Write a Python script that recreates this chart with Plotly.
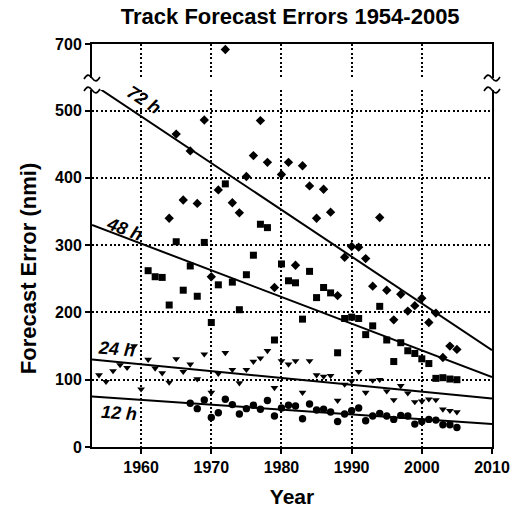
import plotly.graph_objects as go

# ---------------- data ----------------
years_72 = list(range(1964, 2006))
err_72 = [340, 465, 367, 440, 362, 486, 253, 382, 692, 363, 348, 402, 433, 485, 423, 237,
          405, 423, 270, 418, 388, 340, 383, 349, 225, 282, 298, 297, 280, 239, 341, 233,
          189, 227, 202, 210, 221, 185, 199, 133, 150, 145]

years_48 = list(range(1961, 2006))
err_48 = [262, 253, 252, 211, 305, 233, 269, 224, 304, 185, 241, 391, 245, 204, 256, 285,
          331, 326, 159, 272, 247, 244, 190, 261, 222, 237, 229, 140, 191, 193, 191, 167,
          180, 209, 159, 127, 155, 143, 139, 131, 124, 102, 103, 101, 100]

years_24 = list(range(1954, 2006))
err_24 = [107, 97, 113, 122, 118, 150, 86, 130, 117, 110, 96, 131, 112, 123, 101, 138,
          81, 109, 140, 115, 95, 115, 127, 132, 143, 88, 128, 123, 128, 81, 128, 107,
          105, 106, 69, 93, 98, 112, 81, 99, 100, 83, 70, 91, 80, 67, 68, 71, 70, 56, 54, 52]

years_12 = list(range(1967, 2006))
err_12 = [65, 57, 70, 44, 51, 71, 63, 49, 57, 62, 56, 69, 46, 58, 62, 61, 42, 64, 55, 56,
          52, 38, 49, 54, 58, 39, 46, 50, 46, 41, 47, 46, 34, 38, 41, 40, 33, 33, 29]

trend_years = [1953, 2010]
trend_72 = [540, 144]
trend_48 = [330, 104]
trend_24 = [130, 72]
trend_12 = [75, 34]

x_ticks = [1960, 1970, 1980, 1990, 2000, 2010]
y_ticks_low = [0, 100, 200, 300, 400, 500]
y_ticks_high = [700]

FONT = "Liberation Sans, Arial, sans-serif"
BLACK = "#000000"
DOT = "2px,2.4px"

fig = go.Figure()

series = [
    (years_72, err_72, "diamond", 7.2),
    (years_48, err_48, "square", 7.0),
    (years_24, err_24, "triangle-down", 6.8),
    (years_12, err_12, "circle", 7.4),
]
for xa, ya in (("x", "y"), ("x2", "y2")):
    for xs, ys, sym, sz in series:
        fig.add_trace(go.Scatter(x=xs, y=ys, mode="markers", xaxis=xa, yaxis=ya,
                                 marker=dict(symbol=sym, size=sz, color=BLACK,
                                             line=dict(width=0)),
                                 showlegend=False, hoverinfo="skip"))

for tr in (trend_72, trend_48, trend_24, trend_12):
    fig.add_trace(go.Scatter(x=trend_years, y=tr, mode="lines", xaxis="x", yaxis="y",
                             line=dict(color=BLACK, width=2), showlegend=False,
                             hoverinfo="skip"))

low_top = (447 - 90) / 403.0
high_bot = (447 - 78) / 403.0

axis_font = dict(family=FONT, size=16, color=BLACK, weight="bold")

fig.update_layout(
    width=522, height=518,
    margin=dict(l=92, r=27, t=44, b=71),
    paper_bgcolor="white", plot_bgcolor="white",
    title=dict(text="<b>Track Forecast Errors 1954-2005</b>", x=0.556, xanchor="center",
               y=1 - 16 / 518, yanchor="middle",
               font=dict(family=FONT, size=22, color=BLACK)),
    xaxis=dict(domain=[0, 1], range=[1953, 2010], tickvals=x_ticks,
               showline=True, linecolor=BLACK, linewidth=2, mirror=False,
               ticks="outside", ticklen=5, tickwidth=1.5, tickcolor=BLACK,
               showgrid=True, gridcolor=BLACK, gridwidth=1.6, griddash=DOT,
               zeroline=False, tickfont=axis_font, anchor="y",
               title=dict(text="<b>Year</b>", font=dict(family=FONT, size=21, color=BLACK),
                          standoff=14)),
    yaxis=dict(domain=[0, low_top], range=[0, 530.5], tickvals=y_ticks_low,
               showline=True, linecolor=BLACK, linewidth=2, mirror=True,
               ticks="outside", ticklen=5, tickwidth=1.5, tickcolor=BLACK,
               showgrid=True, gridcolor=BLACK, gridwidth=1.6, griddash=DOT,
               zeroline=False, tickfont=axis_font, anchor="x",
               title=dict(text="<b>Forecast Error (nmi)</b>",
                          font=dict(family=FONT, size=22, color=BLACK), standoff=12)),
    xaxis2=dict(domain=[0, 1], range=[1953, 2010], matches="x", tickvals=x_ticks,
                showline=True, linecolor=BLACK, linewidth=2, side="top",
                ticks="", showticklabels=False,
                showgrid=True, gridcolor=BLACK, gridwidth=1.6, griddash=DOT,
                zeroline=False, anchor="y2"),
    yaxis2=dict(domain=[high_bot, 1], range=[649.5, 700.2], tickvals=y_ticks_high,
                showline=True, linecolor=BLACK, linewidth=2, mirror=True,
                ticks="outside", ticklen=5, tickwidth=1.5, tickcolor=BLACK,
                showgrid=False, zeroline=False, tickfont=axis_font, anchor="x2"),
)

# break marks (small tildes) on both vertical axes
tilde = "M -8,-1 C -5,4 -3,4 0,0 C 3,-4 5,-4 8,1"
for xp in (0, 1):
    for yp in (low_top, high_bot):
        fig.add_shape(type="path", xref="paper", yref="paper", xsizemode="pixel",
                      ysizemode="pixel", xanchor=xp, yanchor=yp, path=tilde,
                      line=dict(color=BLACK, width=1.6))

# line labels
labels = [("72 h", 1960.4, 516, 33), ("48 h", 1957.6, 324, 21),
          ("24 h", 1956.5, 146, 5), ("12 h", 1956.9, 50, 4)]
for txt, lx, ly, ang in labels:
    fig.add_annotation(x=lx, y=ly, xref="x", yref="y", text="<b><i>" + txt + "</i></b>",
                       showarrow=False, textangle=ang,
                       font=dict(family=FONT, size=18, color=BLACK))

fig.write_html("out.html", config={"displayModeBar": False},
               post_script="document.body.style.margin='0';")
